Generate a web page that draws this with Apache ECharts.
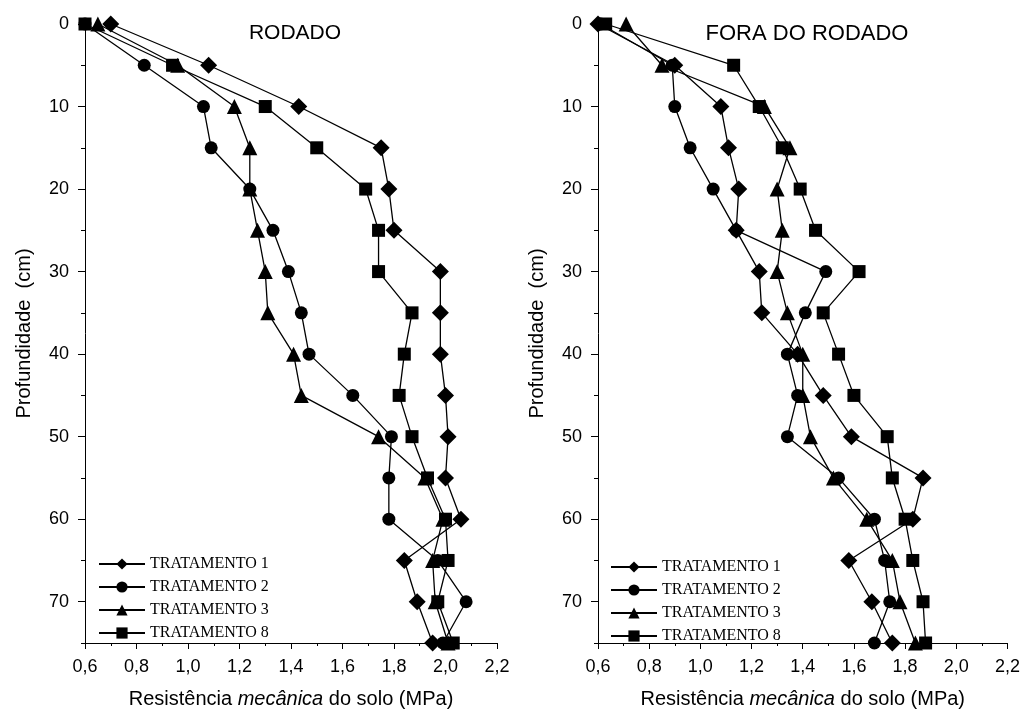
<!DOCTYPE html>
<html>
<head>
<meta charset="utf-8">
<script src="https://cdn.jsdelivr.net/npm/echarts@6/dist/echarts.min.js"></script>
<style>
  html, body { margin: 0; padding: 0; background: #fff; }
  #chart { width: 1023px; height: 724px; }
</style>
</head>
<body>
<div id="chart"></div>
<script>
  // profundidade (cm)
  var depths = [0, 5, 10, 15, 20, 25, 30, 35, 40, 45, 50, 55, 60, 65, 70, 75];
  var names = ['TRATAMENTO 1', 'TRATAMENTO 2', 'TRATAMENTO 3', 'TRATAMENTO 8'];
  var symbols = ['diamond', 'circle', 'triangle', 'rect'];
  var symbolSizes = [17, 13, 15, 13];

  // RODADO
  var rodT1 = [0.70, 1.08, 1.43, 1.75, 1.78, 1.80, 1.98, 1.98, 1.98, 2.00, 2.01, 2.00, 2.06, 1.84, 1.89, 1.95];
  var rodT2 = [0.60, 0.83, 1.06, 1.09, 1.24, 1.33, 1.39, 1.44, 1.47, 1.64, 1.79, 1.78, 1.78, 1.97, 2.08, 1.99];
  var rodT3 = [0.65, 0.96, 1.18, 1.24, 1.24, 1.27, 1.30, 1.31, 1.41, 1.44, 1.74, 1.92, 1.99, 1.95, 1.96, 2.01];
  var rodT8 = [0.60, 0.94, 1.30, 1.50, 1.69, 1.74, 1.74, 1.87, 1.84, 1.82, 1.87, 1.93, 2.00, 2.01, 1.97, 2.03];

  // FORA DO RODADO
  var foraT1 = [0.60, 0.90, 1.08, 1.11, 1.15, 1.14, 1.23, 1.24, 1.38, 1.48, 1.59, 1.87, 1.83, 1.58, 1.67, 1.75];
  var foraT2 = [0.61, 0.89, 0.90, 0.96, 1.05, 1.14, 1.49, 1.41, 1.34, 1.38, 1.34, 1.54, 1.68, 1.72, 1.74, 1.68];
  var foraT3 = [0.71, 0.85, 1.25, 1.35, 1.30, 1.32, 1.30, 1.34, 1.40, 1.40, 1.43, 1.52, 1.65, 1.75, 1.78, 1.84];
  var foraT8 = [0.63, 1.13, 1.23, 1.32, 1.39, 1.45, 1.62, 1.48, 1.54, 1.60, 1.73, 1.75, 1.80, 1.83, 1.87, 1.88];

  var rodado = [rodT1, rodT2, rodT3, rodT8];
  var fora = [foraT1, foraT2, foraT3, foraT8];

  var font = 'Liberation Sans, Arial, sans-serif';

  function pairs(vals) {
    return vals.map(function (v, i) { return [v, depths[i]]; });
  }

  function xAxisFor(gi) {
    return {
      type: 'value', gridIndex: gi, min: 0.6, max: 2.2, interval: 0.2,
      name: '{n|Resistência }{i|mecânica}{n| do solo (MPa)}',
      nameLocation: 'middle', nameGap: 46,
      nameTextStyle: {
        rich: {
          n: { fontFamily: font, fontSize: 20, color: '#000' },
          i: { fontFamily: font, fontSize: 20, color: '#000', fontStyle: 'italic' }
        }
      },
      axisLine: { onZero: false, lineStyle: { color: '#000', width: 1 } },
      axisTick: { length: 6, lineStyle: { color: '#000' } },
      minorTick: { show: true, splitNumber: 2, length: 3, lineStyle: { color: '#000' } },
      splitLine: { show: false },
      axisLabel: {
        color: '#000', fontFamily: font, fontSize: 18, margin: 15,
        formatter: function (v) { return v.toFixed(1).replace('.', ','); }
      }
    };
  }

  function yAxisFor(gi) {
    return {
      type: 'value', gridIndex: gi, min: 0, max: 75, interval: 10, inverse: true,
      name: 'Profundidade  (cm)', nameLocation: 'middle', nameGap: 51,
      nameTextStyle: { fontFamily: font, fontSize: 20, color: '#000' },
      axisLine: { show: true, onZero: false, lineStyle: { color: '#000', width: 1 } },
      axisTick: { length: 7, lineStyle: { color: '#000' } },
      splitLine: { show: false },
      axisLabel: {
        color: '#000', fontFamily: font, fontSize: 18, margin: 16,
        showMaxLabel: false
      }
    };
  }

  function minorYFor(gi) {
    return {
      type: 'value', gridIndex: gi, min: 0, max: 75, interval: 5, inverse: true,
      position: 'left',
      axisLine: { show: false, onZero: false },
      axisTick: { length: 4, lineStyle: { color: '#000' } },
      axisLabel: { show: false },
      splitLine: { show: false }
    };
  }

  var series = [];
  [rodado, fora].forEach(function (set, gi) {
    set.forEach(function (vals, k) {
      series.push({
        name: names[k], type: 'line',
        xAxisIndex: gi, yAxisIndex: gi * 2,
        data: pairs(vals),
        symbol: symbols[k], symbolSize: symbolSizes[k],
        showAllSymbol: true, clip: false,
        lineStyle: { color: '#000', width: 1.3 },
        itemStyle: { color: '#000' },
        z: 3
      });
    });
  });

  function legendAt(left, top) {
    return {
      data: names, orient: 'vertical', left: left, top: top,
      itemWidth: 46, itemHeight: 14, itemGap: 7,
      textStyle: { fontFamily: 'Liberation Serif, Times New Roman, serif', fontSize: 16, color: '#000' },
      selectedMode: false
    };
  }

  var chart = echarts.init(document.getElementById('chart'));
  chart.setOption({
    animation: false,
    backgroundColor: '#fff',
    title: [
      { text: 'RODADO', left: 290, top: 18, textAlign: 'center',
        textStyle: { fontFamily: font, fontSize: 21, fontWeight: 'normal', color: '#000' } },
      { text: 'FORA DO RODADO', left: 802, top: 18, textAlign: 'center',
        textStyle: { fontFamily: font, fontSize: 22, fontWeight: 'normal', color: '#000' } }
    ],
    legend: [legendAt(93, 551), legendAt(605, 554)],
    grid: [
      { left: 85, right: 526, top: 24, bottom: 81 },
      { left: 598, right: 13, top: 24, bottom: 81 }
    ],
    xAxis: [xAxisFor(0), xAxisFor(1)],
    yAxis: [yAxisFor(0), minorYFor(0), yAxisFor(1), minorYFor(1)],
    series: series
  });
</script>
</body>
</html>
